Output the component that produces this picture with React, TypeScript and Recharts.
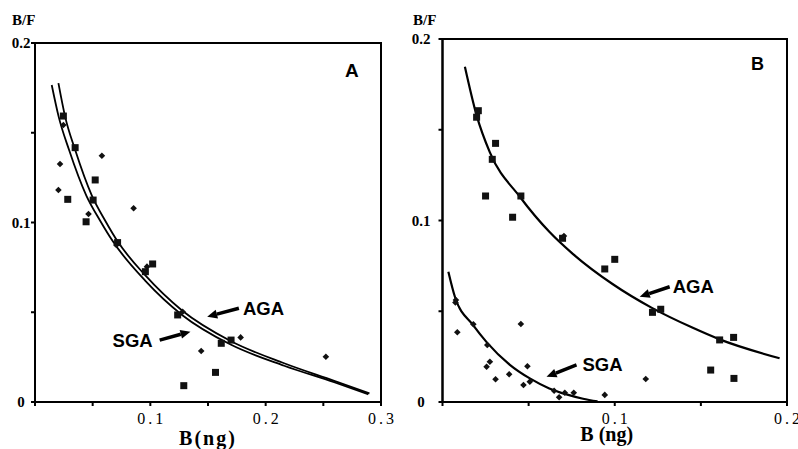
import React from 'react';
import {
  ComposedChart,
  Line,
  Scatter,
  XAxis,
  YAxis,
  ReferenceArea,
  ReferenceLine,
} from 'recharts';

// ---- Panel A (B/F vs B, ng) ----
const aAgaCurve = [
  [0.0203, 0.1776], [0.0261, 0.159], [0.0348, 0.1405], [0.0493, 0.115],
  [0.0609, 0.101], [0.0716, 0.0895], [0.0957, 0.0705], [0.1275, 0.051],
  [0.1696, 0.034], [0.216, 0.0216], [0.2594, 0.0118], [0.29, 0.0048],
];
const aSgaCurve = [
  [0.0145, 0.1766], [0.0205, 0.159], [0.0295, 0.1405], [0.0445, 0.115],
  [0.0565, 0.101], [0.0675, 0.0895], [0.0957, 0.0675], [0.1275, 0.0485],
  [0.1696, 0.032], [0.216, 0.0202], [0.2594, 0.011], [0.289, 0.0043],
];
const aSquares = [
  [0.0246, 0.1593], [0.0348, 0.1417], [0.0284, 0.1129], [0.0522, 0.1237],
  [0.0443, 0.1004], [0.0504, 0.1125], [0.0716, 0.0888], [0.0957, 0.0726],
  [0.102, 0.0769], [0.1237, 0.0485], [0.129, 0.0091], [0.1565, 0.0165],
  [0.1615, 0.0327], [0.17, 0.0345],
];
const aDiamonds = [
  [0.0246, 0.1543], [0.0217, 0.1326], [0.0203, 0.1181], [0.058, 0.1372],
  [0.0855, 0.1079], [0.0464, 0.1047], [0.0971, 0.0754], [0.0705, 0.0875],
  [0.128, 0.0503], [0.1441, 0.0284], [0.1783, 0.036], [0.2522, 0.0252],
];

// ---- Panel B ----
const bAgaCurve = [
  [0.013, 0.1847], [0.0198, 0.1579], [0.0275, 0.1375], [0.0449, 0.1131],
  [0.0623, 0.0935], [0.0758, 0.0815], [0.0987, 0.065], [0.1213, 0.052],
  [0.145, 0.041], [0.1609, 0.0345], [0.1957, 0.0241],
];
const bSgaCurve = [
  [0.0034, 0.0718], [0.0072, 0.058], [0.0179, 0.0422], [0.0256, 0.033],
  [0.0391, 0.0205], [0.0507, 0.013], [0.062, 0.0075], [0.072, 0.0042],
  [0.0816, 0.0018], [0.09, 0.0003],
];
const bSquares = [
  [0.0208, 0.1605], [0.0198, 0.1569], [0.0308, 0.1425], [0.0289, 0.1337],
  [0.025, 0.1135], [0.0455, 0.1135], [0.0407, 0.1018], [0.0697, 0.0902],
  [0.0942, 0.0733], [0.1, 0.0786], [0.1219, 0.0494], [0.1267, 0.0511],
  [0.1609, 0.0342], [0.169, 0.0356], [0.1557, 0.0176], [0.1692, 0.013],
];
const bDiamonds = [
  [0.0078, 0.0562], [0.0075, 0.0548], [0.0086, 0.0384], [0.0179, 0.0428],
  [0.026, 0.0314], [0.0256, 0.0194], [0.0275, 0.0222], [0.0308, 0.0125],
  [0.0387, 0.0153], [0.0455, 0.043], [0.047, 0.0094], [0.0493, 0.0197],
  [0.0507, 0.0112], [0.0648, 0.0062], [0.0677, 0.0026], [0.071, 0.0051],
  [0.0762, 0.0051], [0.0942, 0.0039], [0.118, 0.0127], [0.0705, 0.0915],
];

// ticks
const aXTicks = [0, 0.05, 0.1, 0.15, 0.2, 0.25, 0.3];
const bXTicks = [0, 0.05, 0.1, 0.15, 0.2];
const yTicks = [0, 0.05, 0.1, 0.15, 0.2];
const xLabelled = [0.1, 0.2, 0.3];
const yLabelled = [0, 0.1, 0.2];

// annotation arrows: seg = [tailX, tailY, headX, headY]
const aArrows = [
  { text: 'AGA', side: 'right', seg: [0.1768, 0.0522, 0.1493, 0.0475], gap: 4 },
  { text: 'SGA', side: 'left', seg: [0.1081, 0.0345, 0.1348, 0.0392], gap: 7 },
];
const bArrows = [
  { text: 'AGA', side: 'right', seg: [0.1319, 0.0635, 0.1145, 0.058], gap: 3 },
  { text: 'SGA', side: 'right', seg: [0.0778, 0.0204, 0.0604, 0.0139], gap: 6 },
];

const pts = (a: number[][]) => a.map(([x, y]) => ({ x, y }));

const serif = '"Liberation Serif", "Times New Roman", serif';
const sans = '"Liberation Sans", Arial, sans-serif';

const Square = (p: any) =>
  p.cx == null ? null : (
    <rect x={p.cx - 3.5} y={p.cy - 3.5} width={7} height={7} fill="#111" />
  );

const Diamond = (p: any) =>
  p.cx == null ? null : (
    <path
      d={`M${p.cx},${p.cy - 3.3}L${p.cx + 3.3},${p.cy}L${p.cx},${p.cy + 3.3}L${p.cx - 3.3},${p.cy}Z`}
      fill="#111"
    />
  );

const makeArrow = (text: string, side: string, gap: number) => (p: any) => {
  const { x1, y1, x2, y2 } = p;
  const dx = x2 - x1;
  const dy = y2 - y1;
  const len = Math.hypot(dx, dy) || 1;
  const ux = dx / len;
  const uy = dy / len;
  const hl = 10;
  const hw = 4.5;
  const bx = x2 - ux * hl;
  const by = y2 - uy * hl;
  const onRight = side === 'right';
  return (
    <g>
      <line x1={x1} y1={y1} x2={bx} y2={by} stroke="#000" strokeWidth={3.5} />
      <polygon
        points={`${x2},${y2} ${bx - uy * hw},${by + ux * hw} ${bx + uy * hw},${by - ux * hw}`}
        fill="#000"
      />
      <text
        x={onRight ? x1 + gap : x1 - gap}
        y={y1 + 6.5}
        textAnchor={onRight ? 'start' : 'end'}
        style={{ fontFamily: sans, fontWeight: 'bold', fontSize: 18.5, fill: '#000' }}
      >
        {text}
      </text>
    </g>
  );
};

type PanelProps = {
  width: number;
  margin: { top: number; right: number; left: number; bottom: number };
  yAxisWidth: number;
  yLabelShift: number;
  xMax: number;
  xTicks: number[];
  curves: number[][][];
  curveWidth: number;
  squares: number[][];
  diamonds: number[][];
  arrows: { text: string; side: string; seg: number[]; gap: number }[];
  xLabel: string;
  xLabelDx: number;
  xLabelOffset: number;
  xLabelSpacing: number;
};

const Panel: React.FC<PanelProps> = (props) => {
  const XTick = (t: any) => {
    const v = t.payload.value;
    if (!xLabelled.includes(v)) return <g />;
    return (
      <text
        x={t.x + 1.5}
        y={t.y + 16}
        textAnchor="middle"
        style={{ fontFamily: serif, fontSize: 16, letterSpacing: 3, fill: '#000' }}
      >
        {String(v)}
      </text>
    );
  };
  const YTick = (t: any) => {
    const v = t.payload.value;
    if (!yLabelled.includes(v)) return <g />;
    return (
      <text
        x={t.x - props.yLabelShift}
        y={t.y + 5}
        textAnchor="middle"
        style={{ fontFamily: serif, fontWeight: 'bold', fontSize: 15, fill: '#000' }}
      >
        {v === 0 ? '0' : String(v)}
      </text>
    );
  };

  return (
    <ComposedChart width={props.width} height={449} margin={props.margin}>
      <XAxis
        type="number"
        dataKey="x"
        domain={[0, props.xMax]}
        ticks={props.xTicks}
        allowDataOverflow
        height={47}
        tickSize={4}
        tick={XTick}
        stroke="#000"
        strokeWidth={2}
        label={{
          value: props.xLabel,
          position: 'insideBottom',
          offset: props.xLabelOffset,
          dx: props.xLabelDx,
          style: {
            fontFamily: serif,
            fontWeight: 'bold',
            fontSize: 20,
            letterSpacing: props.xLabelSpacing,
            fill: '#000',
          },
        }}
      />
      <YAxis
        type="number"
        dataKey="y"
        domain={[0, 0.2]}
        ticks={yTicks}
        allowDataOverflow
        width={props.yAxisWidth}
        tickSize={4}
        tick={YTick}
        stroke="#000"
        strokeWidth={2}
      />
      <ReferenceArea
        x1={0}
        x2={props.xMax}
        y1={0}
        y2={0.2}
        fill="none"
        fillOpacity={0}
        stroke="#000"
        strokeWidth={2}
      />
      {props.curves.map((c, i) => (
        <Line
          key={'c' + i}
          data={pts(c)}
          dataKey="y"
          type="monotone"
          stroke="#000"
          strokeWidth={props.curveWidth}
          dot={false}
          activeDot={false}
          isAnimationActive={false}
        />
      ))}
      <Scatter data={pts(props.squares)} dataKey="y" shape={Square} isAnimationActive={false} />
      <Scatter data={pts(props.diamonds)} dataKey="y" shape={Diamond} isAnimationActive={false} />
      {props.arrows.map((a, i) => (
        <ReferenceLine
          key={'a' + i}
          segment={[
            { x: a.seg[0], y: a.seg[1] },
            { x: a.seg[2], y: a.seg[3] },
          ]}
          shape={makeArrow(a.text, a.side, a.gap) as any}
          ifOverflow="visible"
        />
      ))}
    </ComposedChart>
  );
};

export default function App() {
  return (
    <div
      style={{
        position: 'absolute',
        left: 0,
        top: 0,
        width: 798,
        height: 449,
        background: '#fff',
        overflow: 'hidden',
      }}
    >
      <div style={{ position: 'absolute', left: 0, top: 0 }}>
        <Panel
          width={400}
          margin={{ top: 43, right: 19, left: 0, bottom: 0 }}
          yAxisWidth={35}
          yLabelShift={8}
          xMax={0.3}
          xTicks={aXTicks}
          curves={[aAgaCurve, aSgaCurve]}
          curveWidth={1.8}
          squares={aSquares}
          diamonds={aDiamonds}
          arrows={aArrows}
          xLabel="B(ng)"
          xLabelDx={0}
          xLabelOffset={4}
          xLabelSpacing={2}
        />
      </div>
      <div style={{ position: 'absolute', left: 400, top: 0 }}>
        <Panel
          width={398}
          margin={{ top: 39, right: 11, left: 0, bottom: 0 }}
          yAxisWidth={42.5}
          yLabelShift={15.5}
          xMax={0.2}
          xTicks={bXTicks}
          curves={[bAgaCurve, bSgaCurve]}
          curveWidth={2.2}
          squares={bSquares}
          diamonds={bDiamonds}
          arrows={bArrows}
          xLabel="B (ng)"
          xLabelDx={-8}
          xLabelOffset={8}
          xLabelSpacing={0}
        />
      </div>
      <svg
        width={798}
        height={449}
        style={{ position: 'absolute', left: 0, top: 0, pointerEvents: 'none' }}
      >
        <text x={12} y={25} style={{ fontFamily: serif, fontWeight: 'bold', fontSize: 15 }}>
          B/F
        </text>
        <text x={413} y={25} style={{ fontFamily: serif, fontWeight: 'bold', fontSize: 15 }}>
          B/F
        </text>
        <text x={345} y={77} style={{ fontFamily: sans, fontWeight: 'bold', fontSize: 19 }}>
          A
        </text>
        <text x={751} y={70} style={{ fontFamily: sans, fontWeight: 'bold', fontSize: 18 }}>
          B
        </text>
      </svg>
    </div>
  );
}
